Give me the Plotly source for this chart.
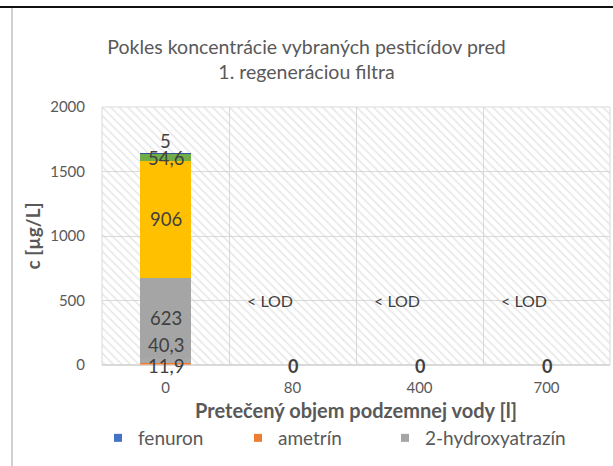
import plotly.graph_objects as go

categories = ["0", "80", "400", "700"]
# stacked series, bottom to top
ametrin = [11.9, 0, 0, 0]
hydroxyatrazin = [40.3, 0, 0, 0]
series4 = [623, 0, 0, 0]
series5 = [906, 0, 0, 0]
series6 = [54.6, 0, 0, 0]
fenuron = [5, 0, 0, 0]
lod_text = ["", "< LOD", "< LOD", "< LOD"]
zero_text = ["", "0", "0", "0"]
y_max = 2000

FONT = "Lato"
GREY = "#595959"

fig = go.Figure()

# hatched plot background
fig.add_trace(go.Bar(
    x=categories, y=[y_max] * len(categories), width=1.0,
    marker=dict(color="rgba(0,0,0,0)", line=dict(width=0),
                pattern=dict(shape="\\", fgcolor="#d2d2d2", bgcolor="rgba(0,0,0,0)",
                             size=6, solidity=0.3, fillmode="overlay")),
    showlegend=False, hoverinfo="skip"))

stack = [
    ("ametrín", ametrin, "#ED7D31"),
    ("2-hydroxyatrazín", hydroxyatrazin, "#A8A8A8"),
    ("séria 4", series4, "#A5A5A5"),
    ("séria 5", series5, "#FFC000"),
    ("séria 6", series6, "#70AD47"),
    ("fenuron", fenuron, "#2F5597"),
]

base = [0.0] * len(categories)
label_pos = []
for name, vals, color in stack:
    fig.add_trace(go.Bar(
        x=categories, y=vals, base=list(base), width=0.4,
        marker=dict(color=color, line=dict(width=0)),
        name=name, showlegend=False))
    for i, v in enumerate(vals):
        if v > 0:
            label_pos.append((i, base[i] + v / 2, v, base[i] + v, name))
    base = [b + v for b, v in zip(base, vals)]

# legend entries
for name, color, rank, leg in [("fenuron", "#4472C4", 1, "legend"),
                               ("ametrín", "#ED7D31", 2, "legend"),
                               ("2-hydroxyatrazín", "#A5A5A5", 3, "legend2")]:
    fig.add_trace(go.Scatter(x=[None], y=[None], name=name, mode="markers",
                             marker=dict(color=color, symbol="square", size=8),
                             legendrank=rank, showlegend=True, legend=leg))

def fmt(v):
    return ("%g" % v).replace(".", ",")

annotations = []
for idx, mid, v, top, name in label_pos:
    yshift = 0
    y = mid
    if name == "fenuron":
        y = top
        yshift = 12
    elif name == "2-hydroxyatrazín":
        yshift = 16
    elif name == "ametrín":
        yshift = -2
    annotations.append(dict(x=idx, y=y, text=fmt(v), showarrow=False, yshift=yshift,
                            font=dict(family=FONT, size=18.5, color="#404040")))

for idx, t in enumerate(lod_text):
    if t:
        annotations.append(dict(x=idx, y=500, text=t, showarrow=False, xshift=-23,
                                font=dict(family=FONT, size=16, color="#404040")))
for idx, t in enumerate(zero_text):
    if t:
        annotations.append(dict(x=idx, y=0, text="<b>%s</b>" % t, showarrow=False, yshift=-1,
                                font=dict(family=FONT, size=18, color="#404040")))

W, H = 613, 466
L, R, T, B = 102, 3, 107, 101
pw, ph = W - L - R, H - T - B

def px(x):
    return (x - L) / pw

def py(y):
    return (H - B - y) / ph

shapes = [
    dict(type="line", xref="paper", yref="paper", x0=px(0), x1=px(W), y0=py(7), y1=py(7),
         line=dict(color="#111111", width=2)),
    dict(type="line", xref="paper", yref="paper", x0=px(12), x1=px(12), y0=py(8), y1=py(H),
         line=dict(color="#d0d0d0", width=2)),
    dict(type="rect", xref="paper", yref="paper", x0=0, x1=1, y0=0, y1=1,
         line=dict(color="#d9d9d9", width=1)),
]

legend_font = dict(family=FONT, size=19, color=GREY)

fig.update_layout(
    width=W, height=H,
    margin=dict(l=L, r=R, t=T, b=B, autoexpand=False),
    paper_bgcolor="white", plot_bgcolor="white",
    barmode="overlay", bargap=0,
    title=dict(text="Pokles koncentrácie vybraných pesticídov pred<br>1. regeneráciou filtra",
               x=0.5, xref="container", xanchor="center", y=1 - 54 / H, yanchor="middle",
               font=dict(family=FONT, size=19.5, color=GREY)),
    xaxis=dict(type="category", categoryorder="array", categoryarray=categories,
               tickson="boundaries", showgrid=True, gridcolor="#d9d9d9", gridwidth=1,
               ticks="", tickfont=dict(family=FONT, size=15, color=GREY),
               ticklabelstandoff=12, automargin=False,
               range=[-0.5, 3.5], showline=False,
               title=dict(text="<b>Pretečený objem podzemnej vody [l]</b>", standoff=8,
                          font=dict(family=FONT, size=20, color=GREY))),
    yaxis=dict(range=[0, y_max], dtick=500, showgrid=True, gridcolor="#d9d9d9",
               zeroline=True, zerolinecolor="#d9d9d9", ticks="", automargin=False,
               tickfont=dict(family=FONT, size=15, color=GREY), ticklabelstandoff=16,
               title=dict(text="<b>c [µg/L]</b>", standoff=4,
                          font=dict(family=FONT, size=19, color=GREY))),
    legend=dict(orientation="h", x=px(98), xanchor="left", y=py(438), yanchor="middle",
                font=legend_font, entrywidth=95,
                entrywidthmode="pixels", itemwidth=30, traceorder="normal"),
    legend2=dict(orientation="h", x=px(385), xanchor="left", y=py(438), yanchor="middle",
                 font=legend_font, itemwidth=30),
    annotations=annotations, shapes=shapes,
    showlegend=True,
)

fig.write_html("out.html", config={"displayModeBar": False},
               post_script="document.body.style.margin='0';document.body.style.padding='0';")
